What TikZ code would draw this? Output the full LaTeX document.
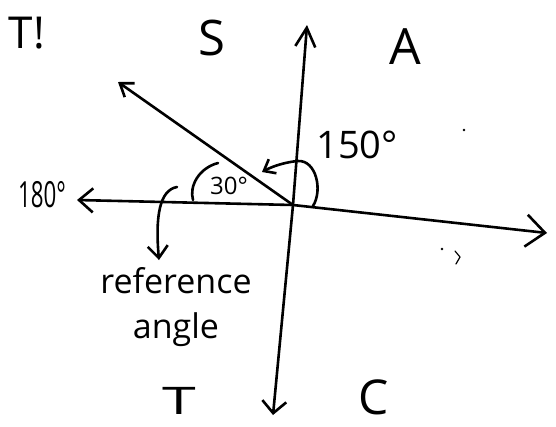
\documentclass[tikz,border=0pt]{standalone}
\usepackage{fontspec}
\setmainfont{Open Sans}
\usetikzlibrary{arrows.meta}
\begin{document}
\begin{tikzpicture}[x=1pt,y=-1pt,line width=2.6pt,line cap=round,line join=round,
  txt/.style={inner sep=0pt,outer sep=0pt},
  fs/.style={font=\fontsize{#1}{#1}\selectfont}]
\useasboundingbox (0,0) rectangle (556,426);
% axes
\coordinate (O) at (293,205);
\coordinate (L) at (77,200);
\coordinate (R) at (547,233);
\coordinate (U) at (307,25);
\coordinate (D) at (273,415);
\coordinate (P) at (118,82);
\draw[-{Straight Barb[length=14pt,width=24pt]}] (O) -- (L);
\draw[-{Straight Barb[length=19pt,width=32pt]}] (O) -- (R);
\draw[-{Straight Barb[length=19pt,width=20pt]}] (O) -- (U);
\draw[-{Straight Barb[length=12pt,width=24pt]}] (O) -- (D);
\draw[-{Straight Barb[length=12pt,width=17pt]}] (O) -- (P);
% 150 degree arc
\coordinate (a1) at (313,206);
\coordinate (a2) at (262,172);
\draw[-{Straight Barb[length=10pt,width=16pt]}] (a1) .. controls (323,190) and (316,160) .. (298,161)
  .. controls (286,162) and (273,166) .. (a2);
% 30 degree arc
\coordinate (b1) at (193,200);
\coordinate (b2) at (218,163);
\draw (b1) .. controls (189,186) and (199,168) .. (b2);
% labels
\node[txt,fs=44,anchor=base east] (top) at (45,48) {T!};
\node[txt,fs=49] (S) at (212,38) {S};
\node[txt,fs=50] (A) at (405,47) {A};
\node[txt,fs=38] (d150) at (357,145) {150°};
\node[txt,fs=36] (d180) at (42,195) {\scalebox{0.62}[1]{180°}};
\node[txt,fs=24] (d30) at (229,186) {30°};
\node[txt,fs=38] (T) at (179,401) {\scalebox{1.6}[1]{T}};
\node[txt,fs=48] (C) at (374,397) {C};
\node[txt,font=\fontsize{34}{45}\selectfont,align=center,anchor=north] (ref) at (176,267) {reference\\angle};
% reference arrow
\coordinate (r1) at (177,187);
\coordinate (r2) at (159,260);
\draw[-{Straight Barb[length=12pt,width=20pt]}] (r1) .. controls (160,190) and (155,215) .. (r2);
% stray marks
\fill (464,130) circle (1.4pt);
\fill (442,249) circle (1.4pt);
\draw[line width=1.2pt] (455,251) -- (460,257) -- (456,264);
\end{tikzpicture}
\end{document}
